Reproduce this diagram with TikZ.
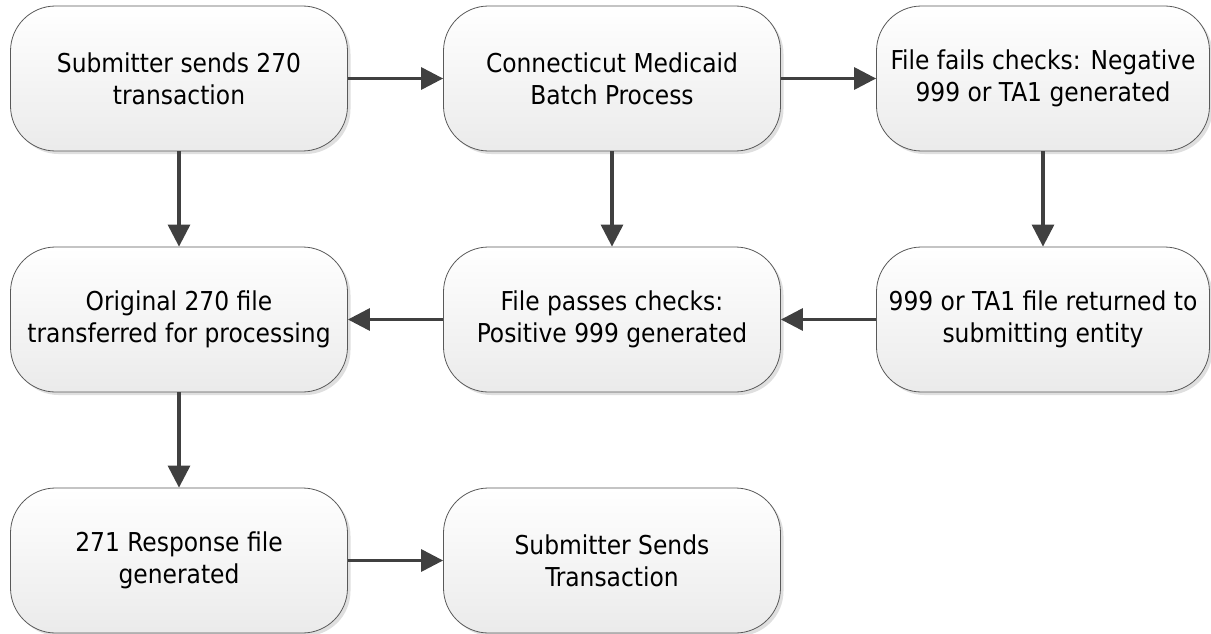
\documentclass[tikz,border=0pt]{standalone}
\usepackage{fontspec}
\setmainfont{DejaVu Sans Condensed}
\usetikzlibrary{shadows,arrows.meta}
\begin{document}
\begin{tikzpicture}[x=1pt,y=-1pt,
  stepbox/.style={draw=black!65, line width=0.8pt, rounded corners=45pt,
    minimum width=337pt, minimum height=145pt, inner sep=0pt,
    top color=white, bottom color=black!8, align=center,
    font=\fontsize{26}{32}\selectfont,
    drop shadow={shadow xshift=3pt, shadow yshift=-3pt, fill=black!25, opacity=0.5}},
  conn/.style={draw=black!75, line width=3.2pt, -{Triangle[length=22pt,width=22pt]}}]
\useasboundingbox (0,0) rectangle (1211,634);
\node[stepbox] (a) at (179,78.5) {Submitter sends 270\\transaction};
\node[stepbox] (b) at (612,78.5) {Connecticut Medicaid\\Batch Process};
\node[stepbox, minimum width=333pt] (c) at (1043,78.5) {File fails checks: Negative\\999 or TA1 generated};
\node[stepbox] (d) at (179,319.5) {Original 270 file\\transferred for processing};
\node[stepbox] (e) at (612,319.5) {File passes checks:\\Positive 999 generated};
\node[stepbox, minimum width=333pt] (f) at (1043,319.5) {999 or TA1 file returned to\\submitting entity};
\node[stepbox] (g) at (179,560.5) {271 Response file\\generated};
\node[stepbox] (h) at (612,560.5) {Submitter Sends\\Transaction};
\draw[conn] (a) -- (b);
\draw[conn] (b) -- (c);
\draw[conn] (a) -- (d);
\draw[conn] (b) -- (e);
\draw[conn] (c) -- (f);
\draw[conn] (f) -- (e);
\draw[conn] (e) -- (d);
\draw[conn] (d) -- (g);
\draw[conn] (g) -- (h);
\end{tikzpicture}
\end{document}
